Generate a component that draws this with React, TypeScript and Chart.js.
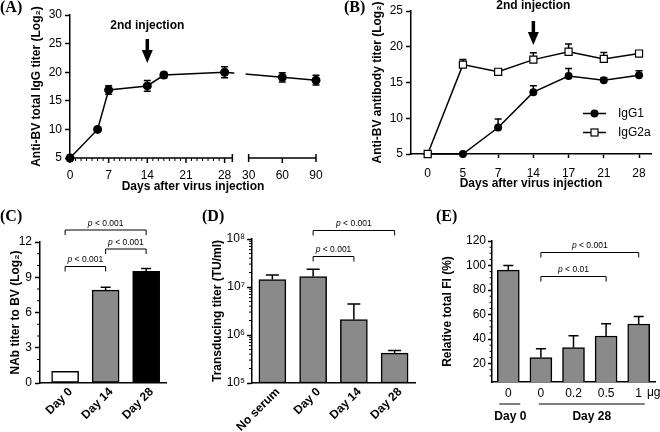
import React, { useEffect, useRef } from "react";
import { Chart, registerables } from "chart.js";

Chart.register(...registerables);

const W = 660;
const H = 432;
const SANS = "'Liberation Sans', Arial, Helvetica, sans-serif";
const SERIF = "'Liberation Serif', 'Times New Roman', serif";
const INK = "#000000";
const GREY = "#8a8a8a";

Chart.defaults.font.family = SANS;
Chart.defaults.color = INK;

// ---------------- data ----------------
// (A) total IgG
const A_DAYS = [0, 5, 7, 14, 17, 28, 60, 90];
const A_TITER = [5, 10, 16.9, 17.6, 19.5, 20.0, 19.1, 18.6];
const A_SEM = [0, 0, 0.75, 0.95, 0.5, 0.95, 0.8, 0.85];
const A_TICKS = [0, 7, 14, 21, 28, 30, 60, 90];

// (B) IgG subclasses
const B_DAYS = ["0", "5", "7", "14", "17", "21", "28"];
const B_IGG1 = [5, 5, 8.7, 13.65, 15.9, 15.3, 16.0];
const B_IGG1_SEM = [0, 0, 1.2, 0.9, 1.05, 0.37, 0.65];
const B_IGG2A = [5, 17.5, 16.5, 18.2, 19.3, 18.3, 19.05];
const B_IGG2A_SEM = [0, 0.7, 0.35, 0.95, 1.1, 0.9, 0.37];

// (C) neutralising antibody titer
const C_GROUPS = ["Day 0", "Day 14", "Day 28"];
const C_NAB = [1.0, 7.9, 9.5];
const C_SEM = [0, 0.25, 0.25];

// (D) transducing titer
const D_GROUPS = ["No serum", "Day 0", "Day 14", "Day 28"];
const D_TITER = [1.43e7, 1.65e7, 2.1e6, 4.2e5];
const D_SEM = [0.35e7, 0.7e7, 2.35e6, 0.56e5];

// (E) relative total FI
const E_DOSES = ["0", "0", "0.2", "0.5", "1"];
const E_FI = [96.2, 24.9, 33.0, 42.5, 52.3];
const E_SEM = [3.8, 7.3, 9.8, 10.0, 6.2];

// styles
const C_COLORS = ["#ffffff", GREY, "#000000"];
const SUP: Record<number, string> = { 5: "\u2075", 6: "\u2076", 7: "\u2077", 8: "\u2078" };

// ---------------- helpers ----------------
type Box = { left: number; top: number; right: number; bottom: number };
const tickFont = { family: SANS, size: 12 };
const titleFont = { family: SANS, size: 12, weight: "bold" as const };

function baseOptions(area: Box, yW: number, xH: number) {
  return {
    responsive: false,
    animation: false as const,
    events: [] as any[],
    layout: {
      autoPadding: false,
      padding: { left: area.left - yW, top: area.top, right: W - area.right, bottom: H - area.bottom - xH },
    },
    plugins: { legend: { display: false }, tooltip: { enabled: false } },
  };
}

function yScale(yW: number, title: string, tickLen = 5) {
  return {
    afterFit: (s: any) => {
      s.width = yW;
    },
    border: { display: true, color: INK, width: 1.5 },
    grid: { drawOnChartArea: false, drawTicks: true, tickLength: tickLen, tickColor: INK, tickWidth: 1.5 },
    title: { display: true, text: title, color: INK, font: titleFont, padding: 0 },
  };
}

function segs(ctx: CanvasRenderingContext2D, list: number[][], width = 1.5) {
  ctx.save();
  ctx.strokeStyle = INK;
  ctx.lineWidth = width;
  ctx.beginPath();
  for (const [x1, y1, x2, y2] of list) {
    ctx.moveTo(x1, y1);
    ctx.lineTo(x2, y2);
  }
  ctx.stroke();
  ctx.restore();
}

function label(ctx: CanvasRenderingContext2D, s: string, x: number, y: number, font: string, align: CanvasTextAlign = "center") {
  ctx.save();
  ctx.fillStyle = INK;
  ctx.font = font;
  ctx.textAlign = align;
  ctx.textBaseline = "middle";
  ctx.fillText(s, x, y);
  ctx.restore();
}

function panelLabel(ctx: CanvasRenderingContext2D, s: string, x: number, y: number) {
  label(ctx, s, x, y, `bold 16px ${SERIF}`, "left");
}

// category labels turned 45 degrees, right end at the tick
function slantedLabels(ctx: CanvasRenderingContext2D, scale: any, names: string[], axisY: number) {
  ctx.save();
  ctx.fillStyle = INK;
  ctx.font = `bold 12px ${SANS}`;
  ctx.textAlign = "right";
  ctx.textBaseline = "middle";
  names.forEach((s, i) => {
    const x = scale.getPixelForValue(i);
    ctx.save();
    ctx.translate(x + 5.5, axisY + 7);
    ctx.rotate(-Math.PI / 4);
    ctx.fillText(s, 0, 0);
    ctx.restore();
  });
  ctx.restore();
}

function errBar(ctx: CanvasRenderingContext2D, x: number, yFrom: number, yTo: number, cap: number) {
  segs(ctx, [
    [x, yFrom, x, yTo],
    [x - cap / 2, yTo, x + cap / 2, yTo],
  ]);
}

function pText(ctx: CanvasRenderingContext2D, rest: string, cx: number, cy: number) {
  ctx.save();
  ctx.fillStyle = INK;
  ctx.textBaseline = "middle";
  ctx.textAlign = "left";
  const fi = `italic 8.5px ${SANS}`;
  const fn = `8.5px ${SANS}`;
  ctx.font = fi;
  const wp = ctx.measureText("p").width;
  ctx.font = fn;
  const wr = ctx.measureText(rest).width;
  const x0 = cx - (wp + wr) / 2;
  ctx.font = fi;
  ctx.fillText("p", x0, cy);
  ctx.font = fn;
  ctx.fillText(rest, x0 + wp, cy);
  ctx.restore();
}

function bracket(ctx: CanvasRenderingContext2D, x1: number, x2: number, y: number, arm: number, rest: string) {
  segs(ctx, [
    [x1, y + arm, x1, y],
    [x1, y, x2, y],
    [x2, y, x2, y + arm],
  ], 1);
  pText(ctx, rest, (x1 + x2) / 2, y - 6.5);
}

function arrow(ctx: CanvasRenderingContext2D, x: number, yTop: number, yTip: number) {
  const headLen = 13;
  const headW = 11;
  const shaft = 3.5;
  ctx.save();
  ctx.fillStyle = INK;
  ctx.fillRect(x - shaft / 2, yTop, shaft, yTip - headLen - yTop + 1);
  ctx.beginPath();
  ctx.moveTo(x - headW / 2, yTip - headLen);
  ctx.lineTo(x + headW / 2, yTip - headLen);
  ctx.lineTo(x, yTip);
  ctx.closePath();
  ctx.fill();
  ctx.restore();
}

// ---------------- panel A ----------------
const A_BREAK_END = 29.4; // axis position where the first x segment stops
const A_LATE_START = 32.35; // axis position of day 30
const A_LATE_UNITS_PER_DAY = 6.1 / 30;
const aPos = (d: number) => (d <= 28 ? d : A_LATE_START + (d - 30) * A_LATE_UNITS_PER_DAY);

function configA(): any {
  const area = { left: 70, top: 15, right: 316, bottom: 158 };
  const yW = 41;
  const xH = 36;
  return {
    type: "line",
    data: {
      datasets: [
        {
          data: A_DAYS.map((d, i) => ({ x: aPos(d), y: A_TITER[i] })),
          borderColor: INK,
          borderWidth: 1.5,
          pointRadius: 4.5,
          pointBackgroundColor: INK,
          pointBorderColor: INK,
          pointBorderWidth: 0,
          tension: 0,
          clip: false,
        },
      ],
    },
    options: {
      ...baseOptions(area, yW, xH),
      scales: {
        x: {
          type: "linear",
          min: 0,
          max: aPos(90),
          afterFit: (s: any) => {
            s.height = xH;
          },
          afterBuildTicks: (s: any) => {
            s.ticks = A_TICKS.map((d) => ({ value: aPos(d) }));
          },
          border: { display: false },
          grid: { display: false, drawTicks: false },
          ticks: {
            color: INK,
            font: tickFont,
            padding: 10,
            maxRotation: 0,
            minRotation: 0,
            autoSkip: false,
            callback: (_v: any, i: number) => String(A_TICKS[i]),
          },
          title: { display: true, text: "Days after virus injection", color: INK, font: titleFont, padding: 0 },
        },
        y: {
          ...yScale(yW, "Anti-BV total IgG titer (Log\u2082)"),
          min: 5,
          max: 30,
          ticks: { color: INK, font: tickFont, padding: 3, stepSize: 5 },
        },
      },
    },
    plugins: [
      {
        id: "panelA",
        beforeDatasetsDraw(chart: any) {
          const { ctx, scales } = chart;
          const meta = chart.getDatasetMeta(0);
          A_SEM.forEach((e, i) => {
            if (!e) return;
            const p = meta.data[i];
            errBar(ctx, p.x, p.y, scales.y.getPixelForValue(A_TITER[i] + e), 7);
            errBar(ctx, p.x, p.y, scales.y.getPixelForValue(A_TITER[i] - e), 7);
          });
        },
        afterDatasetsDraw(chart: any) {
          const { ctx, chartArea, scales } = chart;
          const x = scales.x;
          const px = (v: number) => x.getPixelForValue(v);
          const y0 = chartArea.bottom;
          // gap in the connecting line at the axis break
          ctx.save();
          ctx.fillStyle = "#ffffff";
          ctx.fillRect(px(29.75), chartArea.top, px(31.8) - px(29.75), chartArea.bottom - chartArea.top - 8);
          ctx.restore();
          // broken x axis
          const list: number[][] = [[px(0), y0, px(A_BREAK_END), y0]];
          const minor: number[][] = [];
          for (let d = 0; d <= 28; d++) {
            if (d % 7 === 0) list.push([px(d), y0, px(d), y0 + 5]);
            else minor.push([px(d), y0, px(d), y0 + 3]);
          }
          list.push([px(A_BREAK_END), y0 - 4, px(A_BREAK_END), y0 + 4]);
          list.push([px(aPos(30)), y0, px(aPos(90)), y0]);
          list.push([px(aPos(30)), y0 - 4, px(aPos(30)), y0 + 4]);
          list.push([px(aPos(60)), y0, px(aPos(60)), y0 + 5]);
          list.push([px(aPos(90)), y0 - 4, px(aPos(90)), y0 + 4]);
          segs(ctx, list, 1.5);
          segs(ctx, minor, 1);
          // annotation
          const ax = px(14);
          label(ctx, "2nd injection", ax, 26, `bold 12px ${SANS}`);
          arrow(ctx, ax, 39, 63);
          panelLabel(ctx, "(A)", 0, 8);
        },
      },
    ],
  };
}

// ---------------- panel B ----------------
function configB(): any {
  const area = { left: 411, top: 11, right: 651, bottom: 154 };
  const yW = 41;
  const xH = 37;
  return {
    type: "line",
    data: {
      datasets: [
        {
          label: "IgG2a",
          data: B_IGG2A.map((v, i) => ({ x: i, y: v })),
          borderColor: INK,
          borderWidth: 1.5,
          pointStyle: "rect",
          pointRadius: 5,
          pointBackgroundColor: "#ffffff",
          pointBorderColor: INK,
          pointBorderWidth: 1.2,
          tension: 0,
          clip: false,
        },
        {
          label: "IgG1",
          data: B_IGG1.map((v, i) => ({ x: i, y: v })),
          borderColor: INK,
          borderWidth: 1.5,
          pointRadius: 4,
          pointBackgroundColor: INK,
          pointBorderColor: INK,
          pointBorderWidth: 0,
          tension: 0,
          clip: false,
        },
      ],
    },
    options: {
      ...baseOptions(area, yW, xH),
      scales: {
        x: {
          type: "linear",
          min: -0.474,
          max: 6.34,
          afterFit: (s: any) => {
            s.height = xH;
          },
          afterBuildTicks: (s: any) => {
            s.ticks = B_DAYS.map((_d, i) => ({ value: i }));
          },
          border: { display: true, color: INK, width: 1.5 },
          grid: { drawOnChartArea: false, drawTicks: true, tickLength: 4, tickColor: INK, tickWidth: 1.5 },
          ticks: {
            color: INK,
            font: tickFont,
            padding: 8,
            maxRotation: 0,
            minRotation: 0,
            autoSkip: false,
            callback: (_v: any, i: number) => B_DAYS[i],
          },
          title: { display: true, text: "Days after virus injection", color: INK, font: titleFont, padding: 0 },
        },
        y: {
          ...yScale(yW, "Anti-BV antibody titer (Log\u2082)"),
          min: 5,
          max: 25,
          ticks: { color: INK, font: tickFont, padding: 3, stepSize: 5 },
        },
      },
    },
    plugins: [
      {
        id: "panelB",
        beforeDatasetsDraw(chart: any) {
          const { ctx, scales } = chart;
          const sets = [
            { meta: chart.getDatasetMeta(0), vals: B_IGG2A, sem: B_IGG2A_SEM },
            { meta: chart.getDatasetMeta(1), vals: B_IGG1, sem: B_IGG1_SEM },
          ];
          for (const s of sets) {
            s.sem.forEach((e, i) => {
              if (!e) return;
              const p = s.meta.data[i];
              errBar(ctx, p.x, p.y, scales.y.getPixelForValue(s.vals[i] + e), 7);
            });
          }
        },
        afterDatasetsDraw(chart: any) {
          const { ctx, scales } = chart;
          const ax = scales.x.getPixelForValue(3);
          label(ctx, "2nd injection", ax, 6, `bold 12px ${SANS}`);
          arrow(ctx, ax, 21, 45);
          // legend
          const lx1 = 583;
          const lx2 = 606;
          const mx = (lx1 + lx2) / 2;
          const y1 = 113.5;
          const y2 = 132.5;
          segs(ctx, [
            [lx1, y1, lx2, y1],
            [lx1, y2, lx2, y2],
          ]);
          ctx.save();
          ctx.fillStyle = INK;
          ctx.beginPath();
          ctx.arc(mx, y1, 4, 0, Math.PI * 2);
          ctx.fill();
          ctx.fillStyle = "#ffffff";
          ctx.strokeStyle = INK;
          ctx.lineWidth = 1.2;
          ctx.fillRect(mx - 3.5, y2 - 3.5, 7, 7);
          ctx.strokeRect(mx - 3.5, y2 - 3.5, 7, 7);
          ctx.restore();
          label(ctx, "IgG1", 618, y1, `12px ${SANS}`, "left");
          label(ctx, "IgG2a", 618, y2, `12px ${SANS}`, "left");
          panelLabel(ctx, "(B)", 344, 8);
        },
      },
    ],
  };
}

// ---------------- panel C ----------------
function configC(): any {
  const area = { left: 40, top: 242, right: 166, bottom: 383 };
  const yW = 32;
  const xH = 45;
  return {
    type: "bar",
    data: {
      datasets: [
        {
          data: C_NAB.map((v, i) => ({ x: i, y: v })),
          backgroundColor: C_COLORS,
          borderColor: INK,
          borderWidth: 1.5,
          borderSkipped: false,
          barThickness: 27,
        },
      ],
    },
    options: {
      ...baseOptions(area, yW, xH),
      scales: {
        x: {
          type: "linear",
          min: -0.62,
          max: 2.49,
          offset: false,
          afterFit: (s: any) => {
            s.height = xH;
          },
          afterBuildTicks: (s: any) => {
            s.ticks = C_GROUPS.map((_g, i) => ({ value: i }));
          },
          border: { display: true, color: INK, width: 1.5 },
          grid: { display: false, drawTicks: false },
          ticks: { display: false },
        },
        y: {
          ...yScale(yW, "NAb titer to BV (Log\u2082)"),
          min: 0,
          max: 12,
          ticks: { color: INK, font: tickFont, padding: 3, stepSize: 3 },
        },
      },
    },
    plugins: [
      {
        id: "panelC",
        afterDatasetsDraw(chart: any) {
          const { ctx, scales, chartArea } = chart;
          const px = (i: number) => scales.x.getPixelForValue(i);
          const py = (v: number) => scales.y.getPixelForValue(v);
          // minor ticks
          const minor: number[][] = [];
          for (let v = 1; v < 12; v++) if (v % 3) minor.push([chartArea.left - 3, py(v), chartArea.left, py(v)]);
          segs(ctx, minor, 1);
          C_SEM.forEach((e, i) => {
            if (e) errBar(ctx, px(i), py(C_NAB[i]), py(C_NAB[i] + e), 10);
          });
          slantedLabels(ctx, scales.x, C_GROUPS, chartArea.bottom);
          bracket(ctx, px(0), px(1), 266.5, 5, " < 0.001");
          bracket(ctx, px(1), px(2), 249, 5, " < 0.001");
          bracket(ctx, px(0), px(2), 230, 5, " < 0.001");
          panelLabel(ctx, "(C)", 0, 217);
        },
      },
    ],
  };
}

// ---------------- panel D ----------------
function configD(): any {
  const area = { left: 252, top: 239, right: 415, bottom: 383 };
  const yW = 42;
  const xH = 45;
  return {
    type: "bar",
    data: {
      labels: D_GROUPS,
      datasets: [
        {
          data: D_TITER,
          backgroundColor: GREY,
          borderColor: INK,
          borderWidth: 1.5,
          borderSkipped: false,
          barThickness: 27,
        },
      ],
    },
    options: {
      ...baseOptions(area, yW, xH),
      scales: {
        x: {
          type: "category",
          offset: true,
          afterFit: (s: any) => {
            s.height = xH;
          },
          border: { display: true, color: INK, width: 1.5 },
          grid: { display: false, drawTicks: false },
          ticks: { display: false },
        },
        y: {
          ...yScale(yW, "Transducing titer (TU/ml)"),
          type: "logarithmic",
          min: 1e5,
          max: 1e8,
          afterBuildTicks: (s: any) => {
            s.ticks = [1e5, 1e6, 1e7, 1e8].map((v) => ({ value: v }));
          },
          ticks: {
            color: INK,
            font: tickFont,
            padding: 2,
            callback: (v: any) => "10" + SUP[Math.round(Math.log10(Number(v)))],
          },
        },
      },
    },
    plugins: [
      {
        id: "panelD",
        afterDatasetsDraw(chart: any) {
          const { ctx, scales, chartArea } = chart;
          const px = (i: number) => scales.x.getPixelForValue(i);
          const py = (v: number) => scales.y.getPixelForValue(v);
          const minor: number[][] = [];
          for (let d = 5; d < 8; d++)
            for (let m = 2; m <= 9; m++) {
              const yy = py(m * Math.pow(10, d));
              minor.push([chartArea.left - 3, yy, chartArea.left, yy]);
            }
          segs(ctx, minor, 1);
          D_SEM.forEach((e, i) => {
            errBar(ctx, px(i), py(D_TITER[i]), py(D_TITER[i] + e), 13);
          });
          slantedLabels(ctx, scales.x, D_GROUPS, chartArea.bottom);
          bracket(ctx, px(1), px(2), 256.5, 5, " < 0.001");
          bracket(ctx, px(1), px(3), 230.5, 5, " < 0.001");
          panelLabel(ctx, "(D)", 202, 217);
        },
      },
    ],
  };
}

// ---------------- panel E ----------------
function configE(): any {
  const area = { left: 492, top: 241, right: 655, bottom: 382 };
  const yW = 52;
  const xH = 25;
  return {
    type: "bar",
    data: {
      labels: E_DOSES,
      datasets: [
        {
          data: E_FI,
          backgroundColor: GREY,
          borderColor: INK,
          borderWidth: 1.5,
          borderSkipped: false,
          barThickness: 22,
        },
      ],
    },
    options: {
      ...baseOptions(area, yW, xH),
      scales: {
        x: {
          type: "category",
          offset: true,
          afterFit: (s: any) => {
            s.height = xH;
          },
          border: { display: true, color: INK, width: 1.5 },
          grid: { display: false, drawTicks: false },
          ticks: { color: INK, font: tickFont, padding: 4, maxRotation: 0, minRotation: 0, autoSkip: false },
        },
        y: {
          ...yScale(yW, "Relative total FI (%)", 4),
          min: 5,
          max: 120,
          afterBuildTicks: (s: any) => {
            s.ticks = [20, 40, 60, 80, 100, 120].map((v) => ({ value: v }));
          },
          ticks: { color: INK, font: tickFont, padding: 2 },
        },
      },
    },
    plugins: [
      {
        id: "panelE",
        afterDatasetsDraw(chart: any) {
          const { ctx, scales, chartArea } = chart;
          const px = (i: number) => scales.x.getPixelForValue(i);
          const py = (v: number) => scales.y.getPixelForValue(v);
          const minor: number[][] = [];
          for (let v = 10; v < 120; v += 5) if (v % 20) minor.push([chartArea.left - 2.5, py(v), chartArea.left, py(v)]);
          segs(ctx, minor, 1);
          E_SEM.forEach((e, i) => {
            errBar(ctx, px(i), py(E_FI[i]), py(E_FI[i] + e), 10);
          });
          bracket(ctx, px(1), px(3), 276.5, 5, " < 0.01");
          bracket(ctx, px(1), px(4), 252.5, 5, " < 0.001");
          const b = chartArea.bottom;
          label(ctx, "\u03bcg", px(4) + 15, b + 11, `12px ${SANS}`);
          segs(ctx, [
            [px(0) - 9, b + 22, px(0) + 12, b + 22],
            [px(1) - 2, b + 22, px(4) + 6, b + 22],
          ], 1);
          label(ctx, "Day 0", px(0) + 2, b + 35, `bold 12px ${SANS}`);
          label(ctx, "Day 28", (px(1) - 2 + px(4) + 6) / 2, b + 35, `bold 12px ${SANS}`);
          panelLabel(ctx, "(E)", 436, 217);
        },
      },
    ],
  };
}

// ---------------- components ----------------
function ChartCanvas({ make }: { make: () => any }) {
  const ref = useRef<HTMLCanvasElement>(null);
  useEffect(() => {
    const chart = new Chart(ref.current as HTMLCanvasElement, make());
    return () => chart.destroy();
  }, [make]);
  return (
    <canvas
      ref={ref}
      width={W}
      height={H}
      style={{ position: "absolute", left: 0, top: 0, width: W, height: H }}
    />
  );
}

export default function App() {
  return (
    <div
      style={{
        position: "fixed",
        left: 0,
        top: 0,
        width: W,
        height: H,
        background: "#ffffff",
        overflow: "hidden",
      }}
    >
      <ChartCanvas make={configA} />
      <ChartCanvas make={configB} />
      <ChartCanvas make={configC} />
      <ChartCanvas make={configD} />
      <ChartCanvas make={configE} />
    </div>
  );
}
